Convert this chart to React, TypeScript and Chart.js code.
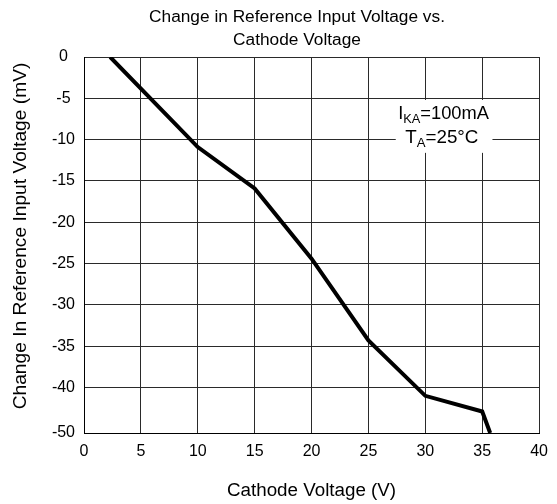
import React, { useEffect, useRef } from 'react';
import { Chart, registerables } from 'chart.js';

Chart.register(...registerables);

const FONT = '"Liberation Sans", Arial, Helvetica, sans-serif';

// Series: cathode voltage (V) vs change in reference input voltage (mV)
const cathodeVoltage = [2.3, 10, 15, 20, 25, 30, 35, 35.7];
const deltaVref = [0, -10.9, -15.9, -24.4, -34.3, -41.0, -42.9, -45.5];

// Axis ticks
const xTickValues = [0, 5, 10, 15, 20, 25, 30, 35, 40];
const yTickValues = [0, -5, -10, -15, -20, -25, -30, -35, -40, -45.5];
const yTickLabels = ['0', '-5', '-10', '-15', '-20', '-25', '-30', '-35', '-40', '-50'];

// Texts
const titleLines = ['Change in Reference Input Voltage vs.', 'Cathode Voltage'];
const xTitle = 'Cathode Voltage (V)';
const yTitle = 'Change In Reference Input Voltage (mV)';
const annoLine1 = [
  { t: 'I', sub: false },
  { t: 'KA', sub: true },
  { t: '=100mA', sub: false },
];
const annoLine2 = [
  { t: 'T', sub: false },
  { t: 'A', sub: true },
  { t: '=25°C', sub: false },
];

const titlePlugin = {
  id: 'customTitle',
  afterDraw(chart: any) {
    const { ctx } = chart;
    ctx.save();
    ctx.fillStyle = '#000';
    ctx.font = `17.3px ${FONT}`;
    ctx.textAlign = 'center';
    ctx.textBaseline = 'middle';
    const cx = 297;
    titleLines.forEach((line, i) => {
      ctx.fillText(line, cx, 17 + i * 23);
    });
    // y-axis title
    ctx.translate(21, 236);
    ctx.rotate(-Math.PI / 2);
    ctx.font = `19.2px ${FONT}`;
    ctx.fillText(yTitle, 0, 0);
    ctx.restore();
  },
};

function drawSubText(ctx: any, parts: { t: string; sub: boolean }[], cx: number, baseline: number, size: number) {
  const mainFont = `${size}px ${FONT}`;
  const subFont = `${size * 0.7}px ${FONT}`;
  let total = 0;
  const widths = parts.map((p) => {
    ctx.font = p.sub ? subFont : mainFont;
    const w = ctx.measureText(p.t).width;
    total += w;
    return w;
  });
  let x = cx - total / 2;
  ctx.textAlign = 'left';
  ctx.textBaseline = 'alphabetic';
  parts.forEach((p, i) => {
    ctx.font = p.sub ? subFont : mainFont;
    ctx.fillText(p.t, x, p.sub ? baseline + 4 : baseline);
    x += widths[i];
  });
}

const annotationPlugin = {
  id: 'conditionsBox',
  afterDatasetsDraw(chart: any) {
    const { ctx } = chart;
    const xs = chart.scales.x;
    const ys = chart.scales.y;
    const left = xs.getPixelForValue(27.4);
    const right = xs.getPixelForValue(35.9);
    const top = ys.getPixelForValue(-5.2);
    const bottom = ys.getPixelForValue(-11.6);
    ctx.save();
    ctx.fillStyle = '#fff';
    ctx.fillRect(left, top, right - left, bottom - top);
    ctx.fillStyle = '#000';
    drawSubText(ctx, annoLine1, xs.getPixelForValue(31.6), ys.getPixelForValue(-7.5), 18.3);
    drawSubText(ctx, annoLine2, xs.getPixelForValue(31.45), ys.getPixelForValue(-10.45), 18.8);
    ctx.restore();
  },
};

export default function App() {
  const canvasRef = useRef<HTMLCanvasElement | null>(null);

  useEffect(() => {
    document.body.style.margin = '0';
    const canvas = canvasRef.current;
    if (!canvas) return;
    const chart = new Chart(canvas, {
      type: 'line',
      data: {
        datasets: [
          {
            data: cathodeVoltage.map((x, i) => ({ x, y: deltaVref[i] })),
            borderColor: '#000',
            borderWidth: 4,
            pointRadius: 0,
            tension: 0,
            fill: false,
          },
        ],
      },
      options: {
        animation: false,
        responsive: false,
        devicePixelRatio: 1,
        layout: { padding: { left: 0, right: 17, top: 57, bottom: 0 } },
        plugins: {
          legend: { display: false },
          tooltip: { enabled: false },
          title: { display: false },
        },
        scales: {
          x: {
            type: 'linear',
            min: 0,
            max: 40,
            afterBuildTicks: (scale: any) => {
              scale.ticks = xTickValues.map((v) => ({ value: v }));
            },
            afterFit: (scale: any) => {
              scale.height = 71;
            },
            ticks: {
              color: '#000',
              padding: 9,
              font: { family: FONT, size: 16 },
              maxRotation: 0,
              callback: (v: any) => String(v),
            },
            grid: { color: '#2a2a2a', lineWidth: 1, drawTicks: false },
            border: { color: '#000', width: 1 },
            title: {
              display: true,
              text: xTitle,
              color: '#000',
              font: { family: FONT, size: 18.8, lineHeight: 1.2 },
              padding: { top: 0, bottom: 2 },
            },
          },
          y: {
            type: 'linear',
            min: -45.5,
            max: 0,
            afterBuildTicks: (scale: any) => {
              scale.ticks = yTickValues.map((v) => ({ value: v }));
            },
            afterFit: (scale: any) => {
              scale.width = 84;
            },
            ticks: {
              color: '#000',
              padding: 9,
              crossAlign: 'center',
              font: { family: FONT, size: 16 },
              callback: (v: any) => {
                const idx = yTickValues.indexOf(Number(v));
                return idx >= 0 ? yTickLabels[idx] : '';
              },
            },
            grid: { color: '#2a2a2a', lineWidth: 1, drawTicks: false },
            border: { color: '#000', width: 1 },
            title: { display: false },
          },
        },
      } as any,
      plugins: [titlePlugin, annotationPlugin],
    });
    return () => chart.destroy();
  }, []);

  return (
    <div style={{ position: 'fixed', left: 0, top: 0, width: 557, height: 504, background: '#fff' }}>
      <canvas ref={canvasRef} width={557} height={504} style={{ display: 'block' }} />
    </div>
  );
}
